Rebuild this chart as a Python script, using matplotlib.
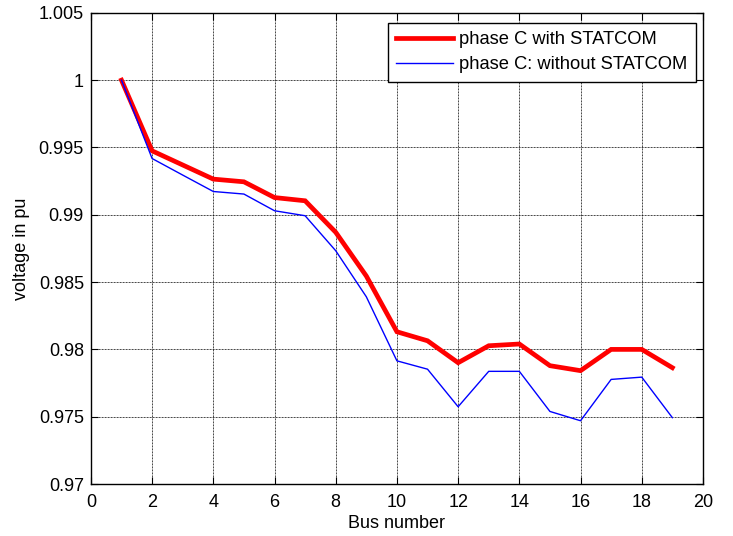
import matplotlib
matplotlib.use("Agg")
import matplotlib.pyplot as plt

bus = list(range(1, 20))
with_statcom = [1.0, 0.99475, 0.9937, 0.99265, 0.99245, 0.99128, 0.99104, 0.9887, 0.98545,
                0.98131, 0.98064, 0.97901, 0.98027, 0.9804, 0.97879, 0.97842, 0.98, 0.98, 0.97864]
without_statcom = [1.0, 0.99418, 0.99295, 0.99173, 0.99154, 0.9903, 0.98993, 0.98733, 0.98391,
                   0.97915, 0.97853, 0.97574, 0.97837, 0.97837, 0.97539, 0.9747, 0.97777, 0.97794, 0.97493]
xticks = list(range(0, 21, 2))
yticks = [0.97, 0.975, 0.98, 0.985, 0.99, 0.995, 1.0, 1.005]
ytick_labels = ["0.97", "0.975", "0.98", "0.985", "0.99", "0.995", "1", "1.005"]

plt.rcParams['font.family'] = ['Liberation Sans', 'DejaVu Sans']
fs = 13

fig = plt.figure(figsize=(7.33, 5.36), dpi=100)
ax = fig.add_axes([0.124, 0.097, 0.835, 0.879])

ax.plot(bus, with_statcom, color='#ff0000', lw=3.4, label='phase C with STATCOM', solid_joinstyle='miter')
ax.plot(bus, without_statcom, color='#0000ff', lw=1.0, label='phase C: without STATCOM')

ax.set_xlim(0, 20)
ax.set_ylim(0.97, 1.005)
ax.set_xticks(xticks)
ax.set_yticks(yticks)
ax.set_yticklabels(ytick_labels)
ax.tick_params(direction='in', length=5, width=0.8, top=True, right=True, labelsize=fs)
ax.tick_params(axis='x', pad=7)
ax.tick_params(axis='y', pad=5)
ax.grid(True, color='black', linestyle=(0, (1, 0.8)), linewidth=0.6)
for s in ax.spines.values():
    s.set_linewidth(1.0)

ax.set_xlabel('Bus number', fontsize=fs, labelpad=3)
ax.set_ylabel('voltage in pu', fontsize=fs, labelpad=6)

leg = ax.legend(loc='upper right', fontsize=13.2, fancybox=False, framealpha=1,
                edgecolor='black', borderpad=0.45, handlelength=3.1, labelspacing=0.45,
                handletextpad=0.35, borderaxespad=0,
                bbox_to_anchor=(0.988, 0.979))
leg.get_frame().set_linewidth(1.0)

fig.savefig('out.png', dpi=100, facecolor='white')
